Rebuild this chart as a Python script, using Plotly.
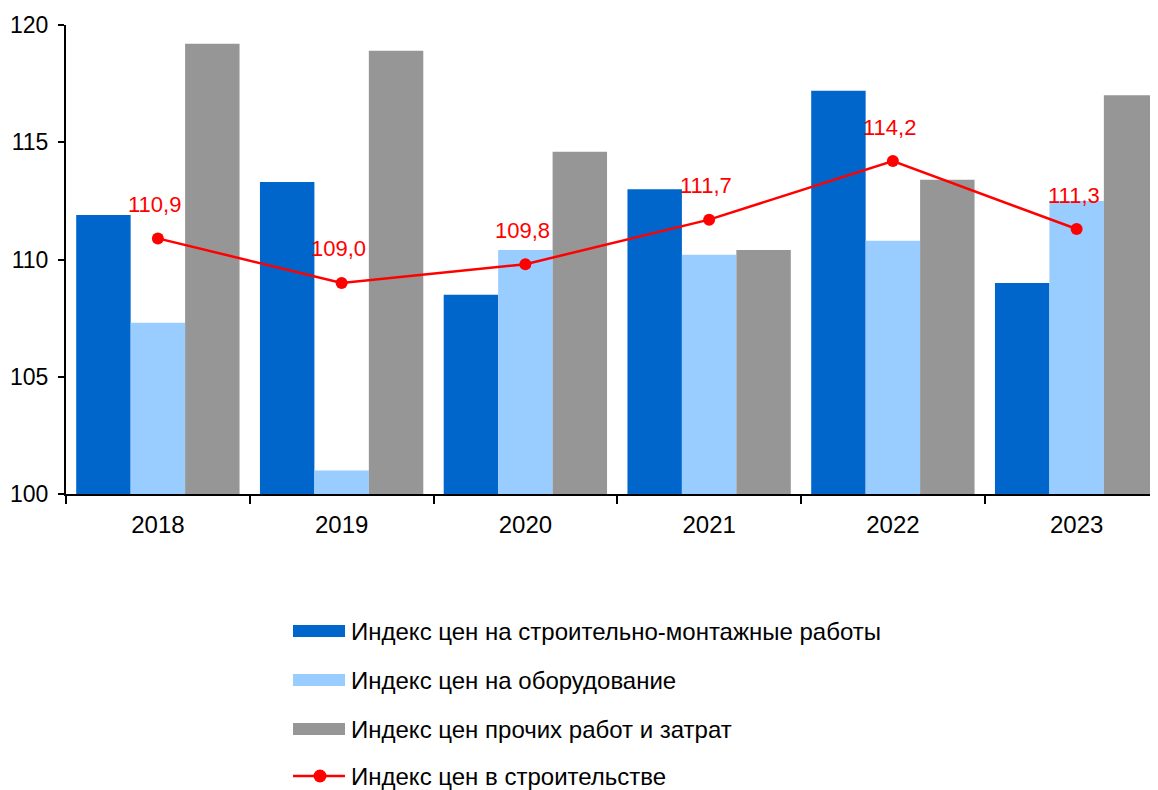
import plotly.graph_objects as go

years = ["2018", "2019", "2020", "2021", "2022", "2023"]
smr = [111.9, 113.3, 108.5, 113.0, 117.2, 109.0]
equipment = [107.3, 101.0, 110.4, 110.2, 110.8, 112.5]
other = [119.2, 118.9, 114.6, 110.4, 113.4, 117.0]
construction = [110.9, 109.0, 109.8, 111.7, 114.2, 111.3]

names = [
    "Индекс цен на строительно-монтажные работы",
    "Индекс цен на оборудование",
    "Индекс цен прочих работ и затрат",
    "Индекс цен в строительстве",
]
colors = ["#0066CC", "#99CCFF", "#969696", "#FF0000"]

OFF = 8  # default body margin of the page
W, H = 1158 - OFF, 790 - OFF
ML, MR, MT, MB = 66 - OFF, 0, 25 - OFF, 790 - 494
PW = W - ML - MR
PH = H - MT - MB
FONT = "Arial, Liberation Sans, sans-serif"
FS = 24


def px_x(px):
    return (px - OFF - ML) / PW


def px_y(py):
    return (H - MB - (py - OFF)) / PH


fig = go.Figure()
for vals, name, col in zip([smr, equipment, other], names[:3], colors[:3]):
    fig.add_trace(go.Bar(x=years, y=vals, name=name, marker=dict(color=col, line=dict(width=0)),
                         showlegend=False))

fig.add_trace(go.Scatter(x=years, y=construction, name=names[3], mode="lines+markers",
                         line=dict(color=colors[3], width=2.5),
                         marker=dict(color=colors[3], size=12), showlegend=False))

annotations = []
for i, v in enumerate(construction):
    annotations.append(dict(x=i, y=v, xref="x", yref="y", text=f"{v:.1f}".replace(".", ","),
                            showarrow=False, yshift=34, xshift=-3, yanchor="middle",
                            font=dict(family=FONT, size=22, color=colors[3])))

# custom legend
shapes = []
leg_y = [631, 680, 729, 776]
x0, x1 = 293, 345
for i, (name, col) in enumerate(zip(names, colors)):
    cy = leg_y[i]
    if i < 3:
        shapes.append(dict(type="rect", xref="paper", yref="paper",
                           x0=px_x(x0), x1=px_x(x1), y0=px_y(cy + 6), y1=px_y(cy - 6),
                           fillcolor=col, line=dict(width=0)))
    else:
        shapes.append(dict(type="line", xref="paper", yref="paper",
                           x0=px_x(x0), x1=px_x(x1), y0=px_y(cy), y1=px_y(cy),
                           line=dict(color=col, width=2.5)))
        shapes.append(dict(type="circle", xref="paper", yref="paper",
                           x0=px_x(320 - 6.5), x1=px_x(320 + 6.5), y0=px_y(cy + 6.5), y1=px_y(cy - 6.5),
                           fillcolor=col, line=dict(width=0)))
    annotations.append(dict(x=px_x(350), y=px_y(cy), xref="paper", yref="paper", text=name,
                            showarrow=False, xanchor="left", yanchor="middle", borderpad=0,
                            font=dict(family=FONT, size=FS, color="black")))

fig.update_layout(
    width=W, height=H,
    margin=dict(l=ML, r=MR, t=MT, b=MB, pad=0, autoexpand=False),
    plot_bgcolor="white", paper_bgcolor="white",
    barmode="group", bargap=0.111, bargroupgap=0,
    showlegend=False,
    font=dict(family=FONT, size=FS, color="black"),
    annotations=annotations,
    shapes=shapes,
    xaxis=dict(type="category", range=[-0.5, -0.5 + PW / 183.75],
               automargin=False,
               showline=True, linecolor="black", linewidth=2,
               ticks="outside", tickson="boundaries", ticklen=8, tickwidth=2, tickcolor="black",
               ticklabelstandoff=8,
               showgrid=False, zeroline=False,
               tickfont=dict(family=FONT, size=FS, color="black")),
    yaxis=dict(range=[100, 120], tickvals=[100, 105, 110, 115, 120],
               automargin=False,
               showline=True, linecolor="black", linewidth=2,
               ticks="outside", ticklen=6, tickwidth=2, tickcolor="black",
               ticklabelstandoff=5,
               showgrid=False, zeroline=False,
               tickfont=dict(family=FONT, size=23, color="black")),
)

fig.write_html("out.html")
